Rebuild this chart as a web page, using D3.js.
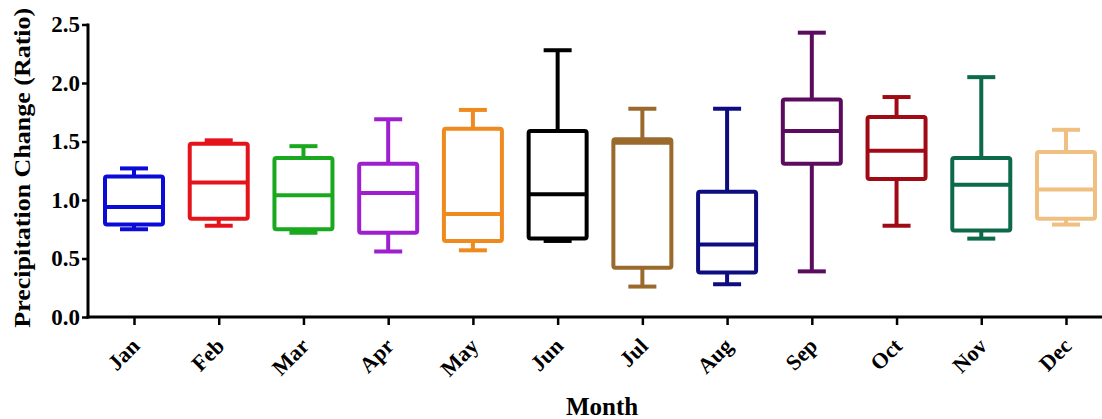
<!DOCTYPE html>
<html>
<head>
<meta charset="utf-8">
<script src="https://cdn.jsdelivr.net/npm/d3@7"></script>
<style>
  body { margin: 0; background: #fff; }
  text { font-family: "Liberation Serif", "Times New Roman", serif; font-weight: bold; }
</style>
</head>
<body>
<div class="chart"></div>
<script>
var months = ["Jan", "Feb", "Mar", "Apr", "May", "Jun", "Jul", "Aug", "Sep", "Oct", "Nov", "Dec"];
var minVals = [0.75, 0.78, 0.72, 0.56, 0.57, 0.65, 0.26, 0.28, 0.39, 0.78, 0.67, 0.79];
var q1Vals = [0.79, 0.84, 0.75, 0.72, 0.65, 0.67, 0.42, 0.38, 1.31, 1.18, 0.74, 0.84];
var medianVals = [0.94, 1.15, 1.04, 1.06, 0.88, 1.05, 1.49, 0.62, 1.59, 1.42, 1.13, 1.09];
var q3Vals = [1.20, 1.48, 1.36, 1.31, 1.61, 1.59, 1.52, 1.07, 1.86, 1.71, 1.36, 1.41];
var maxVals = [1.27, 1.51, 1.46, 1.69, 1.77, 2.28, 1.78, 1.78, 2.43, 1.88, 2.05, 1.60];
var colors = ["#0b0bd6", "#e5141b", "#19a81e", "#9d1fcf", "#ef8a1f", "#000000",
              "#9a6a2c", "#0d0d80", "#5c0c5e", "#a00a14", "#0c6a48", "#f0c083"];
var yTicks = [0, 0.5, 1.0, 1.5, 2.0, 2.5];

var svgWidth = 1102;
var svgHeight = 419;

var svg = d3.select(".chart")
  .append("svg")
  .attr("width", svgWidth)
  .attr("height", svgHeight);

var yScale = d3.scaleLinear()
  .domain([0, 2.5])
  .range([317, 24.5]);

var xScale = d3.scalePoint()
  .domain(months)
  .range([134, 1066]);

var data = months.map(function (m, i) {
  return { month: m, min: minVals[i], q1: q1Vals[i], med: medianVals[i], q3: q3Vals[i], max: maxVals[i], color: colors[i] };
});

var boxW = 58;
var capW = 28;
var sw = 4;

var boxes = svg.selectAll("g.box")
  .data(data)
  .enter()
  .append("g")
  .attr("class", "box");

// whiskers
boxes.append("line")
  .attr("x1", d => xScale(d.month)).attr("x2", d => xScale(d.month))
  .attr("y1", d => yScale(d.max)).attr("y2", d => yScale(d.q3))
  .attr("stroke", d => d.color).attr("stroke-width", sw);
boxes.append("line")
  .attr("x1", d => xScale(d.month)).attr("x2", d => xScale(d.month))
  .attr("y1", d => yScale(d.q1)).attr("y2", d => yScale(d.min))
  .attr("stroke", d => d.color).attr("stroke-width", sw);
// caps
boxes.append("line")
  .attr("x1", d => xScale(d.month) - capW / 2).attr("x2", d => xScale(d.month) + capW / 2)
  .attr("y1", d => yScale(d.max)).attr("y2", d => yScale(d.max))
  .attr("stroke", d => d.color).attr("stroke-width", sw);
boxes.append("line")
  .attr("x1", d => xScale(d.month) - capW / 2).attr("x2", d => xScale(d.month) + capW / 2)
  .attr("y1", d => yScale(d.min)).attr("y2", d => yScale(d.min))
  .attr("stroke", d => d.color).attr("stroke-width", sw);
// box
boxes.append("rect")
  .attr("x", d => xScale(d.month) - boxW / 2)
  .attr("y", d => yScale(d.q3))
  .attr("width", boxW)
  .attr("height", d => yScale(d.q1) - yScale(d.q3))
  .attr("rx", 2)
  .attr("fill", "#fff")
  .attr("stroke", d => d.color)
  .attr("stroke-width", sw);
// median
boxes.append("line")
  .attr("x1", d => xScale(d.month) - boxW / 2).attr("x2", d => xScale(d.month) + boxW / 2)
  .attr("y1", d => yScale(d.med)).attr("y2", d => yScale(d.med))
  .attr("stroke", d => d.color).attr("stroke-width", sw);

// y axis
var leftAxis = d3.axisLeft(yScale)
  .tickValues(yTicks)
  .tickFormat(d3.format(".1f"))
  .tickSize(6)
  .tickSizeOuter(0)
  .tickPadding(2);
var yAxisG = svg.append("g")
  .attr("transform", "translate(88,0)")
  .call(leftAxis);
yAxisG.select(".domain").attr("stroke", "#000").attr("stroke-width", 3)
  .attr("d", "M0," + (yScale(2.5) - 1) + "V" + (yScale(0) + 1.5));
yAxisG.selectAll(".tick line").attr("stroke-width", 2.5);
yAxisG.selectAll(".tick text")
  .style("font-size", "23px")
  .attr("fill", "#000");

// x axis
var bottomAxis = d3.axisBottom(xScale)
  .tickSize(8)
  .tickSizeOuter(0);
var xAxisG = svg.append("g")
  .attr("transform", "translate(0,317)")
  .call(bottomAxis);
xAxisG.select(".domain").attr("stroke", "#000").attr("stroke-width", 3)
  .attr("d", "M86.5,0H1102");
xAxisG.selectAll(".tick line").attr("stroke-width", 2.5);
xAxisG.selectAll(".tick text")
  .style("font-size", "22px")
  .attr("fill", "#000")
  .attr("text-anchor", "end")
  .attr("y", 0)
  .attr("dy", "0.35em")
  .attr("transform", "translate(1,25) rotate(-45)");

// axis labels
svg.append("text")
  .attr("transform", "translate(30," + ((yScale(0) + yScale(2.5)) / 2 - 3) + ") scale(0.85,1) rotate(-90)")
  .attr("text-anchor", "middle")
  .style("font-size", "26px")
  .text("Precipitation Change (Ratio)");

svg.append("text")
  .attr("x", 602)
  .attr("y", 415)
  .attr("text-anchor", "middle")
  .style("font-size", "25px")
  .text("Month");
</script>
</body>
</html>
